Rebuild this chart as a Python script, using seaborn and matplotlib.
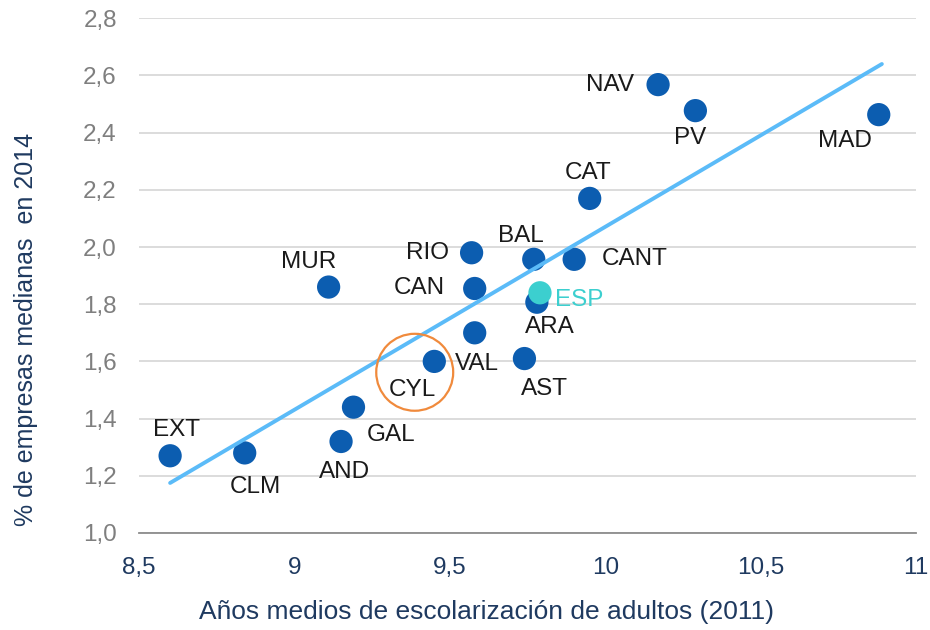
import numpy as np
import pandas as pd
import matplotlib.pyplot as plt
import seaborn as sns
from matplotlib.ticker import FuncFormatter

# datos: años medios de escolarización (2011) y % de empresas medianas (2014)
regiones = ['EXT', 'CLM', 'AND', 'GAL', 'MUR', 'CYL', 'VAL', 'RIO', 'CAN', 'AST',
            'BAL', 'ARA', 'CANT', 'CAT', 'NAV', 'PV', 'MAD']
anos = [8.60, 8.84, 9.15, 9.19, 9.11, 9.45, 9.58, 9.57, 9.58, 9.74,
        9.77, 9.78, 9.90, 9.95, 10.17, 10.29, 10.88]
empresas = [1.27, 1.28, 1.32, 1.44, 1.86, 1.60, 1.70, 1.98, 1.855, 1.61,
            1.957, 1.807, 1.957, 2.17, 2.568, 2.477, 2.463]

esp_x = [9.79]
esp_y = [1.84]

tendencia_x = [8.60, 10.89]
tendencia_y = [1.175, 2.64]

circulo_x = [9.387]
circulo_y = [1.562]

x_ticks = [8.5, 9, 9.5, 10, 10.5, 11]
y_ticks = [1.0, 1.2, 1.4, 1.6, 1.8, 2.0, 2.2, 2.4, 2.6, 2.8]

# desplazamiento de etiquetas (pixeles)
offsets = {'EXT': (6, 26), 'CLM': (11, -34), 'AND': (3, -31), 'GAL': (38, -28),
           'MUR': (-20, 25), 'CYL': (-22, -29), 'VAL': (2, -31), 'RIO': (-44, 0),
           'CAN': (-55, 0), 'AST': (20, -30), 'BAL': (-13, 23), 'ARA': (13, -25),
           'CANT': (61, 0), 'CAT': (-2, 25), 'NAV': (-48, 0), 'PV': (-5, -27),
           'MAD': (-34, -26)}

AZUL = '#0C5DB0'
NAVY = '#1F3A60'
df = pd.DataFrame({'region': regiones, 'anos': anos, 'empresas': empresas})

sns.set_style('white')
plt.rcParams['font.family'] = ['Liberation Sans', 'DejaVu Sans']

fig, ax = plt.subplots(figsize=(9.3, 6.3), dpi=100)
fig.subplots_adjust(left=0.1495, right=0.985, bottom=0.154, top=0.971)

sns.scatterplot(data=df, x='anos', y='empresas', ax=ax, s=280, color=AZUL,
                edgecolor='none', zorder=3, legend=False)
sns.scatterplot(x=esp_x, y=esp_y, ax=ax, s=280, color='#3CCFCF',
                edgecolor='none', zorder=4, legend=False)
sns.lineplot(x=tendencia_x, y=tendencia_y, ax=ax, color='#5BBBF8', lw=2.8, zorder=5)
ax.scatter(circulo_x, circulo_y, s=3070, facecolors='none', edgecolors='#F08A3C',
           linewidths=1.6, zorder=6)

for reg, x, y in zip(regiones, anos, empresas):
    dx, dy = offsets[reg]
    ax.annotate(reg, (x, y), xytext=(dx, dy), textcoords='offset pixels',
                ha='center', va='center', fontsize=17.5, color='#1A1A1A', zorder=7)
ax.annotate('ESP', (esp_x[0], esp_y[0]), xytext=(39, -7), textcoords='offset pixels',
            ha='center', va='center', fontsize=17.5, color='#3CCFCF', zorder=7)

ax.set_xlim(8.5, 11)
ax.set_ylim(1.0, 2.8)
ax.set_xticks(x_ticks)
ax.set_yticks(y_ticks)
ax.xaxis.set_major_formatter(FuncFormatter(lambda v, p: f'{v:g}'.replace('.', ',')))
ax.yaxis.set_major_formatter(FuncFormatter(lambda v, p: f'{v:.1f}'.replace('.', ',')))

ax.grid(axis='y', color='#D9D9D9', lw=1.3)
ax.set_axisbelow(True)
sns.despine(ax=ax, left=True)
ax.spines['bottom'].set_color('#8C8C8C')
ax.spines['bottom'].set_linewidth(1.3)
ax.tick_params(axis='x', direction='out', length=7, width=1.3, color='#8C8C8C',
               pad=10, labelsize=17.5, labelcolor=NAVY)
ax.tick_params(axis='y', length=0, pad=16, labelsize=17.5, labelcolor='#7F7F7F')

ax.set_xlabel('Años medios de escolarización de adultos (2011)', fontsize=19, color=NAVY)
ax.set_ylabel('% de empresas medianas  en 2014', fontsize=18, color=NAVY)
ax.xaxis.set_label_coords(0.447, -0.153)
ax.yaxis.set_label_coords(-0.146, 0.396)
ax.xaxis.label.set_va('center')
ax.yaxis.label.set_va('center')

fig.savefig('out.png', dpi=100)
